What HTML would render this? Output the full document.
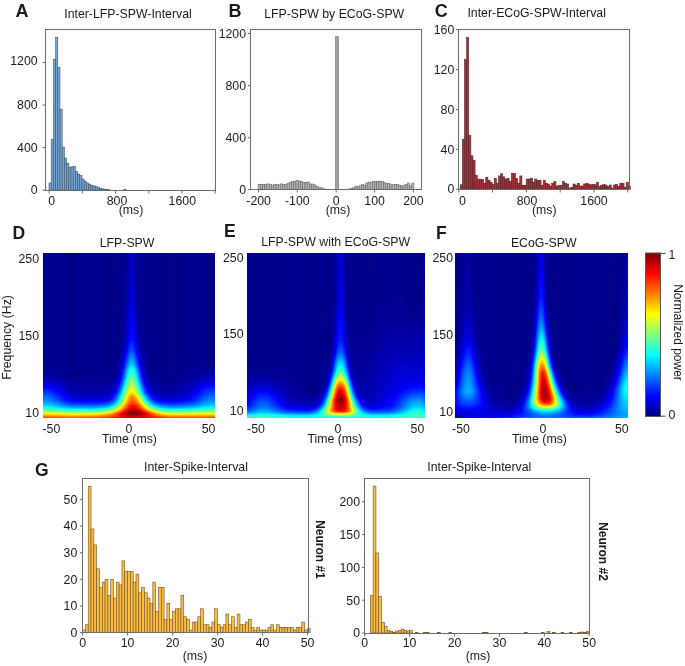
<!DOCTYPE html>
<html><head><meta charset="utf-8"><title>figure</title>
<style>
html,body{margin:0;padding:0;background:#fff;}
body{width:685px;height:666px;overflow:hidden;position:relative;font-family:"Liberation Sans", sans-serif;}
canvas{position:absolute;background:#000090;}
svg{position:absolute;left:0;top:0;}
svg text{font-family:"Liberation Sans", sans-serif;fill:#1a1a1a;}
</style></head><body>
<canvas id="cD" width="172" height="165" style="left:43px;top:253px;width:172px;height:165px;background:radial-gradient(ellipse 26px 34px at 90px 160px,#900000 0%,#ff2000 30%,#ffd000 55%,#30ffd0 78%,rgba(0,60,255,0) 100%),radial-gradient(ellipse 7px 110px at 89px 165px,rgba(0,120,255,.9) 0%,rgba(0,0,255,0) 100%),linear-gradient(to top,#ff6000 0px,#ffd000 3px,#60ffa0 6px,#00d0ff 9px,#0040ff 15px,#0000c0 22px,#000090 32px)"></canvas>
<canvas id="cE" width="178" height="165" style="left:247px;top:253px;width:178px;height:165px;background:radial-gradient(ellipse 20px 34px at 94px 146px,#900000 0%,#ff2000 30%,#ffd000 55%,#30ffd0 75%,rgba(0,60,255,0) 100%),radial-gradient(ellipse 7px 110px at 93px 160px,rgba(0,120,255,.9) 0%,rgba(0,0,255,0) 100%),linear-gradient(to top,#00f0ff 0px,#00b0ff 3px,#0040ff 7px,#0000c0 12px,#000090 20px)"></canvas>
<canvas id="cF" width="173" height="165" style="left:455px;top:253px;width:173px;height:165px;background:radial-gradient(ellipse 16px 42px at 90px 136px,#900000 0%,#ff2000 30%,#ffd000 55%,#30ffd0 75%,rgba(0,60,255,0) 100%),radial-gradient(ellipse 7px 120px at 87px 150px,rgba(0,120,255,.9) 0%,rgba(0,0,255,0) 100%),radial-gradient(ellipse 14px 40px at 13px 138px,rgba(0,140,255,.9) 0%,rgba(0,0,255,0) 100%),radial-gradient(ellipse 14px 45px at 173px 132px,rgba(0,190,255,.9) 0%,rgba(0,0,255,0) 100%),linear-gradient(to top,#0040ff 0px,#0000d0 6px,#000090 12px)"></canvas>
<svg width="685" height="666" viewBox="0 0 685 666">
<text x="15.5" y="16.8" font-size="18" text-anchor="start" font-weight="bold">A</text>
<text x="128" y="17.5" font-size="12.3" text-anchor="middle">Inter-LFP-SPW-Interval</text>
<g fill="#78a6d4" stroke="#34495f" stroke-width="0.55"><rect x="49.00" y="183.00" width="2.20" height="7.10"/><rect x="51.20" y="139.20" width="2.20" height="50.90"/><rect x="53.40" y="59.20" width="2.20" height="130.90"/><rect x="55.60" y="37.40" width="2.20" height="152.70"/><rect x="57.80" y="67.50" width="2.20" height="122.60"/><rect x="60.00" y="109.50" width="2.20" height="80.60"/><rect x="62.20" y="147.00" width="2.20" height="43.10"/><rect x="64.40" y="158.00" width="2.20" height="32.10"/><rect x="66.60" y="163.20" width="2.20" height="26.90"/><rect x="68.80" y="167.00" width="2.20" height="23.10"/><rect x="71.00" y="167.00" width="2.20" height="23.10"/><rect x="73.20" y="166.30" width="2.20" height="23.80"/><rect x="75.40" y="171.30" width="2.20" height="18.80"/><rect x="77.60" y="174.10" width="2.20" height="16.00"/><rect x="79.80" y="175.50" width="2.20" height="14.60"/><rect x="82.00" y="179.10" width="2.20" height="11.00"/><rect x="84.20" y="181.20" width="2.20" height="8.90"/><rect x="86.40" y="183.00" width="2.20" height="7.10"/><rect x="88.60" y="184.10" width="2.20" height="6.00"/><rect x="90.80" y="185.20" width="2.20" height="4.90"/><rect x="93.00" y="185.90" width="2.20" height="4.20"/><rect x="95.20" y="186.60" width="2.20" height="3.50"/><rect x="97.40" y="187.60" width="2.20" height="2.50"/><rect x="99.60" y="188.40" width="2.20" height="1.70"/><rect x="101.80" y="188.90" width="2.20" height="1.20"/><rect x="104.00" y="189.30" width="2.20" height="0.80"/><rect x="106.20" y="189.60" width="2.20" height="0.50"/><rect x="108.40" y="189.80" width="2.20" height="0.30"/><rect x="123.80" y="189.70" width="2.20" height="0.40"/></g>
<rect x="45.5" y="29.5" width="170.0" height="161.0" fill="none" stroke="#6a6a6a" stroke-width="1"/>
<line x1="42.5" y1="190.1" x2="45.5" y2="190.1" stroke="#6a6a6a" stroke-width="1"/>
<line x1="42.5" y1="147.7" x2="45.5" y2="147.7" stroke="#6a6a6a" stroke-width="1"/>
<line x1="42.5" y1="105" x2="45.5" y2="105" stroke="#6a6a6a" stroke-width="1"/>
<line x1="42.5" y1="62.5" x2="45.5" y2="62.5" stroke="#6a6a6a" stroke-width="1"/>
<text x="37.6" y="194.29999999999998" font-size="12.3" text-anchor="end">0</text>
<text x="37.6" y="151.89999999999998" font-size="12.3" text-anchor="end">400</text>
<text x="37.6" y="109.2" font-size="12.3" text-anchor="end">800</text>
<text x="37.6" y="64.5" font-size="12.3" text-anchor="end">1200</text>
<line x1="49.2" y1="190.5" x2="49.2" y2="193.5" stroke="#6a6a6a" stroke-width="1"/>
<line x1="82.4" y1="190.5" x2="82.4" y2="193.5" stroke="#6a6a6a" stroke-width="1"/>
<line x1="115.6" y1="190.5" x2="115.6" y2="193.5" stroke="#6a6a6a" stroke-width="1"/>
<line x1="148.8" y1="190.5" x2="148.8" y2="193.5" stroke="#6a6a6a" stroke-width="1"/>
<line x1="182" y1="190.5" x2="182" y2="193.5" stroke="#6a6a6a" stroke-width="1"/>
<line x1="215.2" y1="190.5" x2="215.2" y2="193.5" stroke="#6a6a6a" stroke-width="1"/>
<text x="51.6" y="205.3" font-size="12.3" text-anchor="middle">0</text>
<text x="117" y="205.3" font-size="12.3" text-anchor="middle">800</text>
<text x="182.3" y="205.3" font-size="12.3" text-anchor="middle">1600</text>
<text x="131" y="213.5" font-size="12.3" text-anchor="middle">(ms)</text>
<text x="228.5" y="16.8" font-size="18" text-anchor="start" font-weight="bold">B</text>
<text x="334.2" y="17.5" font-size="12.3" text-anchor="middle">LFP-SPW by ECoG-SPW</text>
<g fill="#b3b3b3" stroke="#5a5a5a" stroke-width="0.5"><rect x="258.10" y="184.20" width="2.23" height="5.30"/><rect x="260.33" y="184.20" width="2.23" height="5.30"/><rect x="262.56" y="184.50" width="2.23" height="5.00"/><rect x="264.79" y="184.50" width="2.23" height="5.00"/><rect x="267.02" y="183.90" width="2.23" height="5.60"/><rect x="269.25" y="184.20" width="2.23" height="5.30"/><rect x="271.48" y="185.30" width="2.23" height="4.20"/><rect x="273.71" y="184.60" width="2.23" height="4.90"/><rect x="275.94" y="184.20" width="2.23" height="5.30"/><rect x="278.17" y="184.90" width="2.23" height="4.60"/><rect x="280.40" y="183.90" width="2.23" height="5.60"/><rect x="282.63" y="184.20" width="2.23" height="5.30"/><rect x="284.86" y="184.20" width="2.23" height="5.30"/><rect x="287.09" y="183.20" width="2.23" height="6.30"/><rect x="289.32" y="182.70" width="2.23" height="6.80"/><rect x="291.55" y="181.60" width="2.23" height="7.90"/><rect x="293.78" y="181.60" width="2.23" height="7.90"/><rect x="296.01" y="180.70" width="2.23" height="8.80"/><rect x="298.24" y="181.00" width="2.23" height="8.50"/><rect x="300.47" y="181.60" width="2.23" height="7.90"/><rect x="302.70" y="182.30" width="2.23" height="7.20"/><rect x="304.93" y="182.30" width="2.23" height="7.20"/><rect x="307.16" y="182.00" width="2.23" height="7.50"/><rect x="309.39" y="184.00" width="2.23" height="5.50"/><rect x="311.62" y="184.00" width="2.23" height="5.50"/><rect x="313.85" y="184.90" width="2.23" height="4.60"/><rect x="316.08" y="186.60" width="2.23" height="2.90"/><rect x="318.31" y="187.80" width="2.23" height="1.70"/><rect x="320.54" y="187.80" width="2.23" height="1.70"/><rect x="322.77" y="188.80" width="2.23" height="0.70"/></g>
<g fill="#b3b3b3" stroke="#5a5a5a" stroke-width="0.5"><rect x="343.90" y="189.40" width="2.19" height="0.10"/><rect x="346.09" y="189.20" width="2.19" height="0.30"/><rect x="348.28" y="189.00" width="2.19" height="0.50"/><rect x="350.47" y="188.40" width="2.19" height="1.10"/><rect x="352.66" y="187.80" width="2.19" height="1.70"/><rect x="354.85" y="186.20" width="2.19" height="3.30"/><rect x="357.04" y="186.50" width="2.19" height="3.00"/><rect x="359.23" y="185.80" width="2.19" height="3.70"/><rect x="361.42" y="184.40" width="2.19" height="5.10"/><rect x="363.61" y="185.10" width="2.19" height="4.40"/><rect x="365.80" y="183.00" width="2.19" height="6.50"/><rect x="367.99" y="182.00" width="2.19" height="7.50"/><rect x="370.18" y="182.60" width="2.19" height="6.90"/><rect x="372.37" y="181.30" width="2.19" height="8.20"/><rect x="374.56" y="181.30" width="2.19" height="8.20"/><rect x="376.75" y="181.20" width="2.19" height="8.30"/><rect x="378.94" y="181.20" width="2.19" height="8.30"/><rect x="381.13" y="181.60" width="2.19" height="7.90"/><rect x="383.32" y="182.30" width="2.19" height="7.20"/><rect x="385.51" y="183.70" width="2.19" height="5.80"/><rect x="387.70" y="183.30" width="2.19" height="6.20"/><rect x="389.89" y="184.10" width="2.19" height="5.40"/><rect x="392.08" y="184.80" width="2.19" height="4.70"/><rect x="394.27" y="184.40" width="2.19" height="5.10"/><rect x="396.46" y="184.60" width="2.19" height="4.90"/><rect x="398.65" y="185.10" width="2.19" height="4.40"/><rect x="400.84" y="185.80" width="2.19" height="3.70"/><rect x="403.03" y="185.10" width="2.19" height="4.40"/><rect x="405.22" y="184.40" width="2.19" height="5.10"/><rect x="407.41" y="183.00" width="2.19" height="6.50"/><rect x="409.60" y="185.80" width="2.19" height="3.70"/><rect x="411.79" y="183.00" width="2.19" height="6.50"/></g>
<rect x="335.6" y="36.7" width="2.9" height="152.8" fill="#a0a0a0" stroke="#6e6e6e" stroke-width="0.6"/>
<rect x="250.5" y="29.5" width="171.0" height="160.0" fill="none" stroke="#6a6a6a" stroke-width="1"/>
<line x1="248" y1="189.5" x2="250.5" y2="189.5" stroke="#6a6a6a" stroke-width="1"/>
<text x="246" y="193.7" font-size="12.3" text-anchor="end">0</text>
<line x1="248" y1="137.7" x2="250.5" y2="137.7" stroke="#6a6a6a" stroke-width="1"/>
<text x="246" y="141.89999999999998" font-size="12.3" text-anchor="end">400</text>
<line x1="248" y1="85.7" x2="250.5" y2="85.7" stroke="#6a6a6a" stroke-width="1"/>
<text x="246" y="89.9" font-size="12.3" text-anchor="end">800</text>
<line x1="248" y1="33.4" x2="250.5" y2="33.4" stroke="#6a6a6a" stroke-width="1"/>
<text x="246" y="37.6" font-size="12.3" text-anchor="end">1200</text>
<line x1="258.6" y1="189.5" x2="258.6" y2="192.5" stroke="#6a6a6a" stroke-width="1"/>
<text x="258.6" y="205" font-size="12.3" text-anchor="middle">-200</text>
<line x1="297.3" y1="189.5" x2="297.3" y2="192.5" stroke="#6a6a6a" stroke-width="1"/>
<text x="297.3" y="205" font-size="12.3" text-anchor="middle">-100</text>
<line x1="336.2" y1="189.5" x2="336.2" y2="192.5" stroke="#6a6a6a" stroke-width="1"/>
<text x="336.2" y="205" font-size="12.3" text-anchor="middle">0</text>
<line x1="374.6" y1="189.5" x2="374.6" y2="192.5" stroke="#6a6a6a" stroke-width="1"/>
<text x="374.6" y="205" font-size="12.3" text-anchor="middle">100</text>
<line x1="413.4" y1="189.5" x2="413.4" y2="192.5" stroke="#6a6a6a" stroke-width="1"/>
<text x="413.4" y="205" font-size="12.3" text-anchor="middle">200</text>
<text x="338" y="213.5" font-size="12.3" text-anchor="middle">(ms)</text>
<text x="434.8" y="16.8" font-size="18" text-anchor="start" font-weight="bold">C</text>
<text x="536.7" y="16.8" font-size="12.3" text-anchor="middle">Inter-ECoG-SPW-Interval</text>
<g fill="#a3343a" stroke="#561c1f" stroke-width="0.55"><rect x="460.20" y="184.81" width="2.13" height="4.39"/><rect x="462.33" y="139.32" width="2.13" height="49.88"/><rect x="464.46" y="59.52" width="2.13" height="129.68"/><rect x="466.58" y="37.58" width="2.13" height="151.62"/><rect x="468.71" y="135.33" width="2.13" height="53.87"/><rect x="470.84" y="155.78" width="2.13" height="33.42"/><rect x="472.97" y="160.27" width="2.13" height="28.93"/><rect x="475.10" y="175.23" width="2.13" height="13.96"/><rect x="477.22" y="179.22" width="2.13" height="9.98"/><rect x="479.35" y="179.22" width="2.13" height="9.98"/><rect x="481.48" y="179.22" width="2.13" height="9.98"/><rect x="483.61" y="183.21" width="2.13" height="5.99"/><rect x="485.74" y="177.23" width="2.13" height="11.97"/><rect x="487.86" y="180.22" width="2.13" height="8.98"/><rect x="489.99" y="182.22" width="2.13" height="6.98"/><rect x="492.12" y="184.21" width="2.13" height="4.99"/><rect x="494.25" y="178.23" width="2.13" height="10.97"/><rect x="496.38" y="183.21" width="2.13" height="5.99"/><rect x="498.50" y="175.93" width="2.13" height="13.27"/><rect x="500.63" y="173.74" width="2.13" height="15.46"/><rect x="502.76" y="176.83" width="2.13" height="12.37"/><rect x="504.89" y="179.03" width="2.13" height="10.17"/><rect x="507.02" y="178.23" width="2.13" height="10.97"/><rect x="509.14" y="181.22" width="2.13" height="7.98"/><rect x="511.27" y="173.24" width="2.13" height="15.96"/><rect x="513.40" y="173.24" width="2.13" height="15.96"/><rect x="515.53" y="178.23" width="2.13" height="10.97"/><rect x="517.66" y="183.21" width="2.13" height="5.99"/><rect x="519.78" y="175.93" width="2.13" height="13.27"/><rect x="521.91" y="185.31" width="2.13" height="3.89"/><rect x="524.04" y="185.31" width="2.13" height="3.89"/><rect x="526.17" y="179.03" width="2.13" height="10.17"/><rect x="528.30" y="179.03" width="2.13" height="10.17"/><rect x="530.42" y="178.23" width="2.13" height="10.97"/><rect x="532.55" y="182.12" width="2.13" height="7.08"/><rect x="534.68" y="179.03" width="2.13" height="10.17"/><rect x="536.81" y="180.22" width="2.13" height="8.98"/><rect x="538.94" y="180.22" width="2.13" height="8.98"/><rect x="541.06" y="185.21" width="2.13" height="3.99"/><rect x="543.19" y="180.22" width="2.13" height="8.98"/><rect x="545.32" y="183.21" width="2.13" height="5.99"/><rect x="547.45" y="184.01" width="2.13" height="5.19"/><rect x="549.58" y="186.01" width="2.13" height="3.19"/><rect x="551.70" y="183.21" width="2.13" height="5.99"/><rect x="553.83" y="181.72" width="2.13" height="7.48"/><rect x="555.96" y="186.01" width="2.13" height="3.19"/><rect x="558.09" y="185.21" width="2.13" height="3.99"/><rect x="560.22" y="185.21" width="2.13" height="3.99"/><rect x="562.34" y="181.72" width="2.13" height="7.48"/><rect x="564.47" y="183.21" width="2.13" height="5.99"/><rect x="566.60" y="184.01" width="2.13" height="5.19"/><rect x="568.73" y="188.10" width="2.13" height="1.10"/><rect x="570.86" y="187.40" width="2.13" height="1.80"/><rect x="572.98" y="184.01" width="2.13" height="5.19"/><rect x="575.11" y="185.21" width="2.13" height="3.99"/><rect x="577.24" y="183.21" width="2.13" height="5.99"/><rect x="579.37" y="186.01" width="2.13" height="3.19"/><rect x="581.50" y="186.01" width="2.13" height="3.19"/><rect x="583.62" y="184.01" width="2.13" height="5.19"/><rect x="585.75" y="183.21" width="2.13" height="5.99"/><rect x="587.88" y="184.01" width="2.13" height="5.19"/><rect x="590.01" y="184.81" width="2.13" height="4.39"/><rect x="592.14" y="184.21" width="2.13" height="4.99"/><rect x="594.26" y="184.81" width="2.13" height="4.39"/><rect x="596.39" y="182.22" width="2.13" height="6.98"/><rect x="598.52" y="186.51" width="2.13" height="2.69"/><rect x="600.65" y="185.21" width="2.13" height="3.99"/><rect x="602.78" y="184.41" width="2.13" height="4.79"/><rect x="604.90" y="185.01" width="2.13" height="4.19"/><rect x="607.03" y="186.51" width="2.13" height="2.69"/><rect x="609.16" y="185.01" width="2.13" height="4.19"/><rect x="611.29" y="188.10" width="2.13" height="1.10"/><rect x="613.42" y="185.01" width="2.13" height="4.19"/><rect x="615.54" y="184.41" width="2.13" height="4.79"/><rect x="617.67" y="186.31" width="2.13" height="2.89"/><rect x="619.80" y="183.21" width="2.13" height="5.99"/><rect x="621.93" y="183.21" width="2.13" height="5.99"/><rect x="624.06" y="187.20" width="2.13" height="2.00"/><rect x="626.18" y="182.22" width="2.13" height="6.98"/><rect x="628.31" y="186.51" width="2.13" height="2.69"/></g>
<rect x="458.5" y="29.5" width="171.0" height="160.0" fill="none" stroke="#6a6a6a" stroke-width="1"/>
<line x1="456" y1="189.2" x2="458.5" y2="189.2" stroke="#6a6a6a" stroke-width="1"/>
<text x="454.3" y="193.39999999999998" font-size="12.3" text-anchor="end">0</text>
<line x1="456" y1="149.29999999999998" x2="458.5" y2="149.29999999999998" stroke="#6a6a6a" stroke-width="1"/>
<text x="454.3" y="153.49999999999997" font-size="12.3" text-anchor="end">40</text>
<line x1="456" y1="109.39999999999999" x2="458.5" y2="109.39999999999999" stroke="#6a6a6a" stroke-width="1"/>
<text x="454.3" y="113.6" font-size="12.3" text-anchor="end">80</text>
<line x1="456" y1="69.5" x2="458.5" y2="69.5" stroke="#6a6a6a" stroke-width="1"/>
<text x="454.3" y="73.7" font-size="12.3" text-anchor="end">120</text>
<line x1="456" y1="29.599999999999994" x2="458.5" y2="29.599999999999994" stroke="#6a6a6a" stroke-width="1"/>
<text x="454.3" y="33.8" font-size="12.3" text-anchor="end">160</text>
<line x1="458.8" y1="189.5" x2="458.8" y2="192.5" stroke="#6a6a6a" stroke-width="1"/>
<line x1="492.6" y1="189.5" x2="492.6" y2="192.5" stroke="#6a6a6a" stroke-width="1"/>
<line x1="526.4" y1="189.5" x2="526.4" y2="192.5" stroke="#6a6a6a" stroke-width="1"/>
<line x1="560.2" y1="189.5" x2="560.2" y2="192.5" stroke="#6a6a6a" stroke-width="1"/>
<line x1="594.0" y1="189.5" x2="594.0" y2="192.5" stroke="#6a6a6a" stroke-width="1"/>
<line x1="627.8" y1="189.5" x2="627.8" y2="192.5" stroke="#6a6a6a" stroke-width="1"/>
<text x="462.5" y="205.3" font-size="12.3" text-anchor="middle">0</text>
<text x="527" y="205.3" font-size="12.3" text-anchor="middle">800</text>
<text x="594" y="205.3" font-size="12.3" text-anchor="middle">1600</text>
<text x="544.2" y="213.8" font-size="12.3" text-anchor="middle">(ms)</text>
<text x="12.5" y="238.5" font-size="17.5" text-anchor="start" font-weight="bold">D</text>
<text x="127.1" y="246.6" font-size="12.3" text-anchor="middle">LFP-SPW</text>
<text x="224" y="236.8" font-size="17.5" text-anchor="start" font-weight="bold">E</text>
<text x="335.7" y="245.7" font-size="12.3" text-anchor="middle">LFP-SPW with ECoG-SPW</text>
<text x="436" y="238.5" font-size="17.5" text-anchor="start" font-weight="bold">F</text>
<text x="543.7" y="246.7" font-size="12.3" text-anchor="middle">ECoG-SPW</text>
<text x="39" y="262.8" font-size="12.3" text-anchor="end">250</text>
<text x="39" y="340.0" font-size="12.3" text-anchor="end">150</text>
<text x="39" y="416.5" font-size="12.3" text-anchor="end">10</text>
<text x="243.5" y="261.7" font-size="12.3" text-anchor="end">250</text>
<text x="243.5" y="338.2" font-size="12.3" text-anchor="end">150</text>
<text x="243.5" y="415.2" font-size="12.3" text-anchor="end">10</text>
<text x="453" y="262.2" font-size="12.3" text-anchor="end">250</text>
<text x="453" y="338.9" font-size="12.3" text-anchor="end">150</text>
<text x="453" y="415.7" font-size="12.3" text-anchor="end">10</text>
<text x="51.4" y="433" font-size="12.3" text-anchor="middle">-50</text>
<text x="128.8" y="433" font-size="12.3" text-anchor="middle">0</text>
<text x="208.5" y="433" font-size="12.3" text-anchor="middle">50</text>
<text x="256" y="433" font-size="12.3" text-anchor="middle">-50</text>
<text x="337.8" y="433" font-size="12.3" text-anchor="middle">0</text>
<text x="417.4" y="433" font-size="12.3" text-anchor="middle">50</text>
<text x="461" y="433" font-size="12.3" text-anchor="middle">-50</text>
<text x="542.8" y="433" font-size="12.3" text-anchor="middle">0</text>
<text x="621.8" y="433" font-size="12.3" text-anchor="middle">50</text>
<text x="129.5" y="443.3" font-size="12.3" text-anchor="middle">Time (ms)</text>
<text x="334.9" y="443.3" font-size="12.3" text-anchor="middle">Time (ms)</text>
<text x="539.5" y="443.3" font-size="12.3" text-anchor="middle">Time (ms)</text>
<text x="0" y="0" font-size="12.3" text-anchor="middle" transform="translate(10.6,337.5) rotate(-90)">Frequency (Hz)</text>
<defs><linearGradient id="jet" x1="0" y1="1" x2="0" y2="0"><stop offset="0" stop-color="#000080"/><stop offset="0.125" stop-color="#0000ff"/><stop offset="0.375" stop-color="#00ffff"/><stop offset="0.625" stop-color="#ffff00"/><stop offset="0.875" stop-color="#ff0000"/><stop offset="1" stop-color="#800000"/></linearGradient></defs>
<rect x="645.5" y="253" width="15" height="163.5" fill="url(#jet)" stroke="#555" stroke-width="1"/>
<line x1="661" y1="253.4" x2="665.5" y2="253.4" stroke="#444" stroke-width="1"/>
<line x1="661" y1="416.2" x2="665.5" y2="416.2" stroke="#444" stroke-width="1"/>
<text x="668.5" y="258.8" font-size="12.3" text-anchor="start">1</text>
<text x="668.5" y="418.6" font-size="12.3" text-anchor="start">0</text>
<text x="0" y="0" font-size="12" text-anchor="middle" transform="translate(673.5,332.5) rotate(90)">Normalized power</text>
<text x="35" y="475.5" font-size="17.5" text-anchor="start" font-weight="bold">G</text>
<text x="196" y="470.5" font-size="12.3" text-anchor="middle">Inter-Spike-Interval</text>
<g fill="#fdbd45" stroke="#6e5220" stroke-width="0.6"><rect x="82.60" y="630.04" width="2.81" height="2.66"/><rect x="85.41" y="624.72" width="2.81" height="7.98"/><rect x="88.22" y="486.40" width="2.81" height="146.30"/><rect x="91.03" y="528.96" width="2.81" height="103.74"/><rect x="93.84" y="544.92" width="2.81" height="87.78"/><rect x="96.65" y="568.86" width="2.81" height="63.84"/><rect x="99.46" y="587.48" width="2.81" height="45.22"/><rect x="102.27" y="582.16" width="2.81" height="50.54"/><rect x="105.08" y="579.50" width="2.81" height="53.20"/><rect x="107.89" y="595.46" width="2.81" height="37.24"/><rect x="110.70" y="579.50" width="2.81" height="53.20"/><rect x="113.51" y="598.12" width="2.81" height="34.58"/><rect x="116.32" y="582.16" width="2.81" height="50.54"/><rect x="119.13" y="584.82" width="2.81" height="47.88"/><rect x="121.94" y="560.88" width="2.81" height="71.82"/><rect x="124.75" y="571.52" width="2.81" height="61.18"/><rect x="127.56" y="571.52" width="2.81" height="61.18"/><rect x="130.37" y="571.52" width="2.81" height="61.18"/><rect x="133.18" y="582.16" width="2.81" height="50.54"/><rect x="135.99" y="574.18" width="2.81" height="58.52"/><rect x="138.80" y="592.80" width="2.81" height="39.90"/><rect x="141.61" y="587.48" width="2.81" height="45.22"/><rect x="144.42" y="592.80" width="2.81" height="39.90"/><rect x="147.23" y="598.12" width="2.81" height="34.58"/><rect x="150.04" y="603.44" width="2.81" height="29.26"/><rect x="152.85" y="582.16" width="2.81" height="50.54"/><rect x="155.66" y="611.42" width="2.81" height="21.28"/><rect x="158.47" y="587.48" width="2.81" height="45.22"/><rect x="161.28" y="587.48" width="2.81" height="45.22"/><rect x="164.09" y="619.40" width="2.81" height="13.30"/><rect x="166.90" y="603.44" width="2.81" height="29.26"/><rect x="169.71" y="619.40" width="2.81" height="13.30"/><rect x="172.52" y="611.42" width="2.81" height="21.28"/><rect x="175.33" y="608.76" width="2.81" height="23.94"/><rect x="178.14" y="608.76" width="2.81" height="23.94"/><rect x="180.95" y="595.46" width="2.81" height="37.24"/><rect x="183.76" y="616.74" width="2.81" height="15.96"/><rect x="186.57" y="619.40" width="2.81" height="13.30"/><rect x="189.38" y="630.04" width="2.81" height="2.66"/><rect x="192.19" y="622.06" width="2.81" height="10.64"/><rect x="195.00" y="622.06" width="2.81" height="10.64"/><rect x="197.81" y="616.74" width="2.81" height="15.96"/><rect x="200.62" y="608.76" width="2.81" height="23.94"/><rect x="203.43" y="624.72" width="2.81" height="7.98"/><rect x="206.24" y="624.72" width="2.81" height="7.98"/><rect x="209.05" y="627.38" width="2.81" height="5.32"/><rect x="211.86" y="622.06" width="2.81" height="10.64"/><rect x="214.67" y="608.76" width="2.81" height="23.94"/><rect x="217.48" y="624.72" width="2.81" height="7.98"/><rect x="220.29" y="627.38" width="2.81" height="5.32"/><rect x="223.10" y="624.72" width="2.81" height="7.98"/><rect x="225.91" y="614.08" width="2.81" height="18.62"/><rect x="228.72" y="624.72" width="2.81" height="7.98"/><rect x="231.53" y="616.74" width="2.81" height="15.96"/><rect x="234.34" y="627.38" width="2.81" height="5.32"/><rect x="237.15" y="614.08" width="2.81" height="18.62"/><rect x="239.96" y="624.72" width="2.81" height="7.98"/><rect x="242.77" y="624.72" width="2.81" height="7.98"/><rect x="245.58" y="622.06" width="2.81" height="10.64"/><rect x="248.39" y="619.40" width="2.81" height="13.30"/><rect x="251.20" y="627.38" width="2.81" height="5.32"/><rect x="254.01" y="630.04" width="2.81" height="2.66"/><rect x="256.82" y="627.38" width="2.81" height="5.32"/><rect x="259.63" y="630.04" width="2.81" height="2.66"/><rect x="262.44" y="630.04" width="2.81" height="2.66"/><rect x="265.25" y="630.04" width="2.81" height="2.66"/><rect x="268.06" y="627.38" width="2.81" height="5.32"/><rect x="270.87" y="624.72" width="2.81" height="7.98"/><rect x="273.68" y="630.04" width="2.81" height="2.66"/><rect x="276.49" y="624.72" width="2.81" height="7.98"/><rect x="279.30" y="627.38" width="2.81" height="5.32"/><rect x="282.11" y="627.38" width="2.81" height="5.32"/><rect x="284.92" y="627.38" width="2.81" height="5.32"/><rect x="287.73" y="627.38" width="2.81" height="5.32"/><rect x="290.54" y="627.38" width="2.81" height="5.32"/><rect x="293.35" y="630.04" width="2.81" height="2.66"/><rect x="296.16" y="627.38" width="2.81" height="5.32"/><rect x="298.97" y="627.38" width="2.81" height="5.32"/><rect x="301.78" y="622.06" width="2.81" height="10.64"/><rect x="304.59" y="630.04" width="2.81" height="2.66"/><rect x="307.40" y="628.71" width="2.81" height="3.99"/></g>
<rect x="82.5" y="478.5" width="226.0" height="154.0" fill="none" stroke="#6a6a6a" stroke-width="1"/>
<line x1="80" y1="632.6" x2="82.5" y2="632.6" stroke="#6a6a6a" stroke-width="1"/>
<text x="77.3" y="636.8000000000001" font-size="12.3" text-anchor="end">0</text>
<line x1="80" y1="605.96" x2="82.5" y2="605.96" stroke="#6a6a6a" stroke-width="1"/>
<text x="77.3" y="610.1600000000001" font-size="12.3" text-anchor="end">10</text>
<line x1="80" y1="579.32" x2="82.5" y2="579.32" stroke="#6a6a6a" stroke-width="1"/>
<text x="77.3" y="583.5200000000001" font-size="12.3" text-anchor="end">20</text>
<line x1="80" y1="552.6800000000001" x2="82.5" y2="552.6800000000001" stroke="#6a6a6a" stroke-width="1"/>
<text x="77.3" y="556.8800000000001" font-size="12.3" text-anchor="end">30</text>
<line x1="80" y1="526.04" x2="82.5" y2="526.04" stroke="#6a6a6a" stroke-width="1"/>
<text x="77.3" y="530.24" font-size="12.3" text-anchor="end">40</text>
<line x1="80" y1="499.40000000000003" x2="82.5" y2="499.40000000000003" stroke="#6a6a6a" stroke-width="1"/>
<text x="77.3" y="503.6" font-size="12.3" text-anchor="end">50</text>
<line x1="82.6" y1="632.5" x2="82.6" y2="635.5" stroke="#6a6a6a" stroke-width="1"/>
<text x="82.6" y="646.5" font-size="12.3" text-anchor="middle">0</text>
<line x1="127.6" y1="632.5" x2="127.6" y2="635.5" stroke="#6a6a6a" stroke-width="1"/>
<text x="127.6" y="646.5" font-size="12.3" text-anchor="middle">10</text>
<line x1="172.6" y1="632.5" x2="172.6" y2="635.5" stroke="#6a6a6a" stroke-width="1"/>
<text x="172.6" y="646.5" font-size="12.3" text-anchor="middle">20</text>
<line x1="217.6" y1="632.5" x2="217.6" y2="635.5" stroke="#6a6a6a" stroke-width="1"/>
<text x="217.6" y="646.5" font-size="12.3" text-anchor="middle">30</text>
<line x1="262.6" y1="632.5" x2="262.6" y2="635.5" stroke="#6a6a6a" stroke-width="1"/>
<text x="262.6" y="646.5" font-size="12.3" text-anchor="middle">40</text>
<line x1="307.6" y1="632.5" x2="307.6" y2="635.5" stroke="#6a6a6a" stroke-width="1"/>
<text x="307.6" y="646.5" font-size="12.3" text-anchor="middle">50</text>
<text x="195" y="659.5" font-size="12.3" text-anchor="middle">(ms)</text>
<text x="0" y="0" font-size="12" text-anchor="middle" font-weight="bold" transform="translate(316,549.5) rotate(90)">Neuron #1</text>
<text x="479.3" y="470.5" font-size="12.3" text-anchor="middle">Inter-Spike-Interval</text>
<g fill="#fdbd45" stroke="#6e5220" stroke-width="0.6"><rect x="370.31" y="595.61" width="2.81" height="37.39"/><rect x="373.12" y="486.06" width="2.81" height="146.94"/><rect x="375.92" y="552.97" width="2.81" height="80.03"/><rect x="378.72" y="596.26" width="2.81" height="36.74"/><rect x="381.53" y="622.50" width="2.81" height="10.50"/><rect x="384.33" y="626.44" width="2.81" height="6.56"/><rect x="387.14" y="630.38" width="2.81" height="2.62"/><rect x="389.94" y="631.69" width="2.81" height="1.31"/><rect x="392.75" y="632.34" width="2.81" height="0.66"/><rect x="395.56" y="631.03" width="2.81" height="1.97"/><rect x="398.36" y="630.38" width="2.81" height="2.62"/><rect x="401.16" y="629.06" width="2.81" height="3.94"/><rect x="403.97" y="630.38" width="2.81" height="2.62"/><rect x="406.77" y="631.03" width="2.81" height="1.97"/><rect x="409.58" y="630.38" width="2.81" height="2.62"/><rect x="415.19" y="632.34" width="2.81" height="0.66"/><rect x="423.61" y="632.34" width="2.81" height="0.66"/><rect x="426.41" y="632.34" width="2.81" height="0.66"/><rect x="437.63" y="632.34" width="2.81" height="0.66"/><rect x="448.85" y="632.34" width="2.81" height="0.66"/><rect x="482.51" y="632.34" width="2.81" height="0.66"/><rect x="485.31" y="632.34" width="2.81" height="0.66"/><rect x="524.59" y="632.34" width="2.81" height="0.66"/><rect x="541.41" y="632.34" width="2.81" height="0.66"/><rect x="547.02" y="631.69" width="2.81" height="1.31"/><rect x="552.63" y="632.34" width="2.81" height="0.66"/><rect x="561.05" y="632.34" width="2.81" height="0.66"/><rect x="569.47" y="632.34" width="2.81" height="0.66"/><rect x="577.88" y="632.34" width="2.81" height="0.66"/><rect x="580.68" y="632.02" width="2.81" height="0.98"/><rect x="583.49" y="632.34" width="2.81" height="0.66"/><rect x="586.29" y="631.69" width="2.81" height="1.31"/></g>
<rect x="364.5" y="478.5" width="225.0" height="155.0" fill="none" stroke="#6a6a6a" stroke-width="1"/>
<line x1="362" y1="633.0" x2="364.5" y2="633.0" stroke="#6a6a6a" stroke-width="1"/>
<text x="360" y="637.4" font-size="12.3" text-anchor="end">0</text>
<line x1="362" y1="600.2" x2="364.5" y2="600.2" stroke="#6a6a6a" stroke-width="1"/>
<text x="360" y="604.6" font-size="12.3" text-anchor="end">50</text>
<line x1="362" y1="567.4" x2="364.5" y2="567.4" stroke="#6a6a6a" stroke-width="1"/>
<text x="360" y="571.8" font-size="12.3" text-anchor="end">100</text>
<line x1="362" y1="534.6" x2="364.5" y2="534.6" stroke="#6a6a6a" stroke-width="1"/>
<text x="360" y="539.0" font-size="12.3" text-anchor="end">150</text>
<line x1="362" y1="501.8" x2="364.5" y2="501.8" stroke="#6a6a6a" stroke-width="1"/>
<text x="360" y="506.2" font-size="12.3" text-anchor="end">200</text>
<line x1="364.7" y1="633.5" x2="364.7" y2="636.5" stroke="#6a6a6a" stroke-width="1"/>
<text x="364.7" y="647" font-size="12.3" text-anchor="middle">0</text>
<line x1="409.59999999999997" y1="633.5" x2="409.59999999999997" y2="636.5" stroke="#6a6a6a" stroke-width="1"/>
<text x="409.59999999999997" y="647" font-size="12.3" text-anchor="middle">10</text>
<line x1="454.5" y1="633.5" x2="454.5" y2="636.5" stroke="#6a6a6a" stroke-width="1"/>
<text x="454.5" y="647" font-size="12.3" text-anchor="middle">20</text>
<line x1="499.4" y1="633.5" x2="499.4" y2="636.5" stroke="#6a6a6a" stroke-width="1"/>
<text x="499.4" y="647" font-size="12.3" text-anchor="middle">30</text>
<line x1="544.3" y1="633.5" x2="544.3" y2="636.5" stroke="#6a6a6a" stroke-width="1"/>
<text x="544.3" y="647" font-size="12.3" text-anchor="middle">40</text>
<line x1="589.2" y1="633.5" x2="589.2" y2="636.5" stroke="#6a6a6a" stroke-width="1"/>
<text x="589.2" y="647" font-size="12.3" text-anchor="middle">50</text>
<text x="478" y="660" font-size="12.3" text-anchor="middle">(ms)</text>
<text x="0" y="0" font-size="12" text-anchor="middle" font-weight="bold" transform="translate(599,551.5) rotate(90)">Neuron #2</text>
</svg>
<script>
(function(){
function cl(a){return a<0?0:(a>1?1:a);}
function jet(v){v=cl(v);return [cl(1.5-Math.abs(4*v-3)),cl(1.5-Math.abs(4*v-2)),cl(1.5-Math.abs(4*v-1))];}
function E(a){return Math.exp(a);}
function g2(a){return Math.exp(-a*a);}
function gp(a,p){return Math.exp(-Math.pow(Math.abs(a),p));}
function tab(t,h){if(h<=t[0][0])return t[0][1];for(var i=1;i<t.length;i++){if(h<=t[i][0]){var a=t[i-1],b=t[i];return a[1]+(b[1]-a[1])*(h-a[0])/(b[0]-a[0]);}}return t[t.length-1][1];}
function draw(id,f){
  var c=document.getElementById(id);if(!c||!c.getContext)return;
  var ctx=c.getContext('2d'),W=c.width,H=c.height,img=ctx.createImageData(W,H),d=img.data;
  for(var py=0;py<H;py++)for(var px=0;px<W;px++){
    var v=f(px+0.5,H-(py+0.5),W,H),j=jet(v),i=4*(py*W+px);
    d[i]=Math.round(j[0]*255);d[i+1]=Math.round(j[1]*255);d[i+2]=Math.round(j[2]*255);d[i+3]=255;}
  ctx.putImageData(img,0,0);
}
function st(x,s){return 0.003*Math.sin(x*0.13+s)+0.002*Math.sin(x*0.31+2*s)+0.0015*Math.sin(x*0.7+s*3);}
// Panel D
var AD=[[0,0.14],[2,0.2],[3.5,0.36],[5.5,0.48],[8,0.55],[12.5,0.65],[16.8,0.68],[21.2,0.67],[25.6,0.61],[30,0.56],[38.7,0.48],[47.5,0.4],[54,0.31],[66,0.2],[78,0.13],[120,0.075],[170,0.06]];
var CD=[[0,91.3],[25,88.8],[165,88.4]];
var BD=[[0,0.78],[1,0.75],[3.3,0.64],[5.6,0.51],[7.9,0.385],[10.2,0.28],[14,0.16],[18,0.08],[25,0.03],[40,0]];
draw('cD',function(x,h,W,H){
  var dx=x-tab(CD,h), w=520/(h+22)+0.8;
  var peak=tab(AD,h)*g2(dx/w);
  var band=tab(BD,h);
  var gl=0.16*g2((x-2)/19)*g2((h-19)/(h>19?16:12))+0.17*g2((x-W+1)/20)*g2((h-20)/(h>20?18:12));
  return 0.012+st(x,1)+peak+band+gl;
});
// Panel E
var AE=[[0,0],[2,0.12],[4.2,0.38],[6.6,0.68],[9,0.8],[13,0.88],[18.6,0.95],[24,0.89],[28,0.85],[32,0.78],[35,0.7],[39,0.6],[46,0.43],[53.5,0.34],[65.5,0.2],[77.5,0.13],[120,0.08],[170,0.07]];
var BE=[[0,0.36],[2.2,0.35],[3.5,0.29],[5,0.21],[8,0.12],[12,0.05],[20,0.015],[30,0]];
draw('cE',function(x,h,W,H){
  var dx=x-93.5, w=480/(h+22)+0.8;
  var peak=tab(AE,h)*gp(dx/w,2.4);
  var band=tab(BE,h);
  var gl=0.17*g2((x-17)/18)*g2((h-13)/(h>13?20:12))+0.2*g2((x-170)/17)*g2((h-8)/(h>8?18:6))+0.09*g2((x-W+10)/45)*g2((h-20)/(h>20?55:15));
  return 0.012+st(x,2)+peak+band+gl;
});
// Panel F
var AF=[[0,0.1],[1.5,0.1],[4.5,0.2],[7.5,0.33],[11.2,0.6],[15,0.82],[19.5,0.93],[25.7,0.95],[34.5,0.9],[45,0.84],[52.7,0.72],[58.6,0.62],[67.6,0.46],[78.2,0.37],[88.7,0.28],[97.7,0.22],[120,0.13],[170,0.07]];
var CF=[[0,92],[14,91.3],[26,89.8],[53,87],[98,86],[165,86]];
var GF=[[0,0.02],[6,0.07],[14,0.18],[26,0.29],[45,0.25],[60,0.18],[80,0.09],[110,0.04],[170,0.03]];
var GF2=[[0,0.14],[10,0.28],[30,0.4],[50,0.27],[72,0.12],[110,0.05],[170,0.03]];
draw('cF',function(x,h,W,H){
  var dx=x-tab(CF,h), w=492/(h+17.1)+0.8;
  var peak=tab(AF,h)*gp(dx/w,2.2);
  var band=(0.03+0.12*Math.min(1,x/60))*E(-h/6);
  var wl=w*1.1;
  var gl=tab(GF,h)*g2((x-13.1)/wl)+tab(GF2,h)*g2((x-W-1)/(wl*1.1));
  return 0.012+st(x,3)+peak+band+gl;
});
})();

</script>
</body></html>
